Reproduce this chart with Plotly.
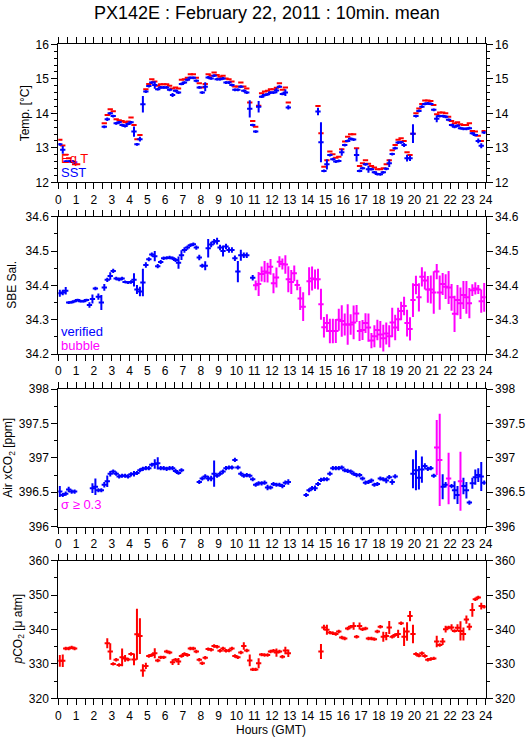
import plotly.graph_objects as go

# ---------------- data (10-minute means, 144 slots per day) ----------------
hours = [(i + 0.5) / 6 for i in range(144)]
N = None

sst = [
    13.10, 12.94, 12.60, 12.60, 12.60, 12.58, N, N, N, N, N, N,
    N, N, N, 13.61, 13.83, 14.00, 13.92, 13.71, 13.74, 13.66, 13.63, 13.69,
    13.74, 13.47, 13.10, 13.25, 14.26, 14.63, 14.79, 14.89, 14.82, 14.70, 14.75, 14.75,
    14.75, 14.68, 14.53, 14.65, 14.60, 14.85, 14.89, 14.97, 15.03, 15.03, 14.94, 14.75,
    14.60, 14.77, 15.04, 15.01, 15.09, 14.99, 14.99, 15.01, 14.89, 14.89, 14.82, 14.68,
    14.68, 14.77, 14.65, 14.60, 14.13, 13.66, 13.47, 14.19, 14.48, 14.53, 14.55, 14.60,
    14.60, 14.66, 14.77, 14.56, 14.60, 14.17, N, N, N, N, N, N,
    N, N, N, 14.05, 13.16, 12.33, 12.52, 12.79, 12.67, 12.60, 12.62, 12.87,
    13.08, 13.20, 13.26, 13.24, 12.79, 12.33, 12.41, 12.52, 12.38, 12.38, 12.29, 12.24,
    12.23, 12.29, 12.39, 12.55, 12.82, 12.99, 13.15, 13.16, 13.08, 12.70, 12.70, 13.41,
    13.92, 14.07, 14.19, 14.27, 14.29, 14.27, 14.10, 13.84, 13.92, 13.92, 13.90, 13.81,
    13.66, 13.61, 13.64, 13.57, 13.55, 13.55, 13.57, 13.42, 13.37, 13.20, 13.06, 13.44,
]
sst_err = [
    0.04, 0.11, 0.04, 0.04, 0.04, 0.04, 0, 0, 0, 0, 0, 0,
    0, 0, 0, 0.04, 0.05, 0.04, 0.04, 0.04, 0.04, 0.04, 0.04, 0.04,
    0.04, 0.15, 0.04, 0.07, 0.24, 0.04, 0.04, 0.04, 0.11, 0.04, 0.04, 0.04,
    0.04, 0.04, 0.06, 0.04, 0.04, 0.04, 0.04, 0.04, 0.04, 0.04, 0.04, 0.04,
    0.04, 0.13, 0.04, 0.04, 0.04, 0.04, 0.04, 0.04, 0.04, 0.04, 0.04, 0.04,
    0.04, 0.04, 0.04, 0.04, 0.25, 0.04, 0.04, 0.17, 0.04, 0.04, 0.04, 0.04,
    0.04, 0.08, 0.04, 0.04, 0.10, 0.06, 0, 0, 0, 0, 0, 0,
    0, 0, 0, 0.11, 0.58, 0.04, 0.15, 0.04, 0.04, 0.04, 0.04, 0.10,
    0.04, 0.04, 0.04, 0.04, 0.19, 0.04, 0.04, 0.04, 0.10, 0.04, 0.04, 0.04,
    0.04, 0.04, 0.04, 0.11, 0.04, 0.04, 0.04, 0.04, 0.06, 0.10, 0.08, 0.27,
    0.04, 0.04, 0.04, 0.04, 0.04, 0.04, 0.04, 0.10, 0.04, 0.04, 0.04, 0.04,
    0.04, 0.04, 0.04, 0.04, 0.04, 0.04, 0.04, 0.04, 0.04, 0.07, 0.07, 0.04,
]
eq_t = [
    13.23, 13.07, 12.80, 12.70, 12.62, 12.52, 12.52, N, N, N, N, N,
    N, N, N, 13.71, 13.95, 14.12, 14.06, 13.83, 13.80, 13.78, 13.74, 13.76,
    13.88, 13.66, 13.25, 13.37, N, 14.70, 14.85, 14.99, 14.92, 14.80, 14.84, 14.84,
    14.84, 14.80, 14.72, 14.75, 14.72, 14.97, 14.99, 15.03, 15.13, 15.13, 15.03, 14.87,
    14.75, 14.85, 15.13, 15.09, 15.18, 15.11, 15.06, 15.09, 15.01, 14.99, 14.92, 14.78,
    14.78, 14.89, 14.78, 14.72, 14.31, 13.78, 13.61, 14.22, 14.58, 14.63, 14.65, 14.70,
    14.70, 14.74, 14.87, 14.68, 14.75, 14.31, N, N, N, N, N, N,
    N, N, N, 14.21, 13.42, 12.45, 12.64, 12.89, 12.81, 12.71, 12.74, 12.96,
    13.18, 13.32, 13.39, 13.39, 12.99, 12.47, 12.55, 12.64, 12.54, 12.47, 12.43, 12.38,
    12.38, 12.41, 12.52, 12.64, 12.93, 13.08, 13.23, 13.28, 13.20, 12.87, 12.79, 13.41,
    14.00, 14.14, 14.27, 14.37, 14.37, 14.36, 14.24, 13.97, 14.02, 14.02, 14.00, 13.90,
    13.78, 13.71, 13.74, 13.68, 13.66, 13.66, 13.71, 13.49, 13.47, 13.35, 13.20, 13.49,
]

sal = [
    34.377, 34.379, 34.384, 34.350, 34.351, 34.354, 34.357, 34.354, 34.354, 34.357, 34.343, 34.360,
    34.391, 34.367, 34.350, 34.394, 34.416, 34.427, 34.442, 34.420, 34.417, 34.420, 34.410, 34.408,
    34.410, 34.416, 34.388, 34.382, 34.408, 34.459, 34.476, 34.490, 34.485, 34.456, 34.468, 34.479,
    34.480, 34.481, 34.479, 34.474, 34.466, 34.488, 34.503, 34.510, 34.517, 34.520, 34.510, 34.481,
    34.457, 34.457, 34.508, 34.519, 34.527, 34.529, 34.510, 34.500, 34.513, 34.503, 34.503, 34.479,
    34.440, 34.488, 34.488, 34.488, N, 34.422, 34.400, 34.404, 34.433, 34.440, 34.437, 34.454,
    34.406, 34.423, 34.469, 34.462, 34.461, 34.418, 34.410, 34.435, 34.401, 34.362, 34.338, N,
    34.412, 34.420, 34.418, 34.418, 34.345, 34.278, 34.290, 34.267, 34.267, 34.267, 34.300, 34.296,
    34.286, 34.286, 34.286, 34.292, 34.318, 34.267, 34.270, 34.290, 34.277, 34.239, 34.252, 34.270,
    34.257, 34.246, 34.260, 34.252, 34.292, 34.277, 34.301, 34.325, 34.340, 34.290, 34.273, 34.357,
    34.401, 34.365, 34.425, 34.414, 34.388, 34.388, 34.379, 34.440, 34.379, 34.404, 34.396, 34.394,
    34.365, 34.317, 34.357, 34.348, 34.372, 34.365, 34.348, 34.386, 34.391, 34.388, 34.354, 34.365,
]
sal_err = [
    0.010, 0.008, 0.011, 0.004, 0.004, 0.004, 0.004, 0.004, 0.004, 0.004, 0.008, 0.013,
    0.005, 0.009, 0.022, 0.010, 0.006, 0.011, 0.006, 0.005, 0.005, 0.005, 0.004, 0.004,
    0.005, 0.019, 0.013, 0.014, 0.040, 0.008, 0.006, 0.006, 0.015, 0.006, 0.006, 0.005,
    0.005, 0.005, 0.005, 0.006, 0.018, 0.014, 0.008, 0.006, 0.005, 0.005, 0.006, 0.008,
    0.006, 0.013, 0.027, 0.008, 0.008, 0.010, 0.008, 0.016, 0.008, 0.008, 0.008, 0.008,
    0.031, 0.016, 0.008, 0.008, 0, 0.008, 0.014, 0.035, 0.022, 0.031, 0.029, 0.023,
    0.029, 0.029, 0.016, 0.016, 0.027, 0.038, 0.035, 0.023, 0.015, 0.034, 0.042, 0,
    0.041, 0.035, 0.028, 0.030, 0.045, 0.030, 0.026, 0.036, 0.036, 0.035, 0.032, 0.046,
    0.032, 0.059, 0.030, 0.049, 0.025, 0.029, 0.029, 0.029, 0.041, 0.022, 0.032, 0.030,
    0.039, 0.039, 0.032, 0.032, 0.043, 0.037, 0.034, 0.027, 0.027, 0.039, 0.034, 0.049,
    0.027, 0.041, 0.028, 0.026, 0.039, 0.041, 0.062, 0.022, 0.050, 0.032, 0.036, 0.048,
    0.039, 0.053, 0.044, 0.046, 0.041, 0.048, 0.044, 0.017, 0.018, 0.013, 0.034, 0.042,
]
sal_qc = ["verified"] * 66 + ["bubble"] * 78

xco2 = [
    396.51, 396.46, 396.48, 396.54, 396.51, 396.51, N, N, N, N, N, 396.56,
    396.58, 396.53, 396.53, 396.61, 396.66, 396.77, 396.80, 396.77, 396.73, 396.74, 396.74, 396.73,
    396.76, 396.77, 396.78, 396.82, 396.84, 396.85, 396.85, 396.90, 396.91, 396.92, 396.85, 396.85,
    396.84, 396.85, 396.85, 396.81, 396.78, 396.82, N, N, N, N, N, 396.65,
    396.70, 396.73, 396.70, 396.70, 396.77, 396.74, 396.77, 396.80, 396.85, 396.86, 396.86, 396.97,
    396.86, 396.77, 396.74, 396.75, 396.74, 396.69, 396.61, 396.63, 396.63, 396.64, 396.57, 396.57,
    396.62, 396.61, 396.61, 396.59, 396.64, 396.65, N, N, N, N, N, 396.46,
    396.53, 396.56, 396.56, 396.62, 396.68, 396.69, 396.69, 396.77, 396.85, 396.85, 396.85, 396.86,
    396.82, 396.81, 396.80, 396.77, 396.75, 396.75, 396.70, 396.64, 396.65, 396.67, 396.61, 396.62,
    396.70, 396.69, 396.67, 396.72, 396.65, 396.73, N, N, N, N, N, 396.77,
    396.82, 396.71, 396.83, 396.88, 396.84, 396.85, 396.74, 397.15, 396.97, 396.58, 396.61, 396.70,
    396.59, 396.53, 396.46, 396.66, 396.59, 396.53, 396.35, 396.63, 396.72, 396.75, 396.73, 396.64,
]
xco2_sigma = [
    0.08, 0.03, 0.03, 0.04, 0.03, 0.03, 0, 0, 0, 0, 0, 0.07,
    0.12, 0.03, 0.03, 0.04, 0.085, 0.04, 0.03, 0.03, 0.03, 0.03, 0.03, 0.03,
    0.03, 0.04, 0.03, 0.03, 0.03, 0.03, 0.03, 0.03, 0.07, 0.09, 0.03, 0.03,
    0.03, 0.03, 0.03, 0.03, 0.025, 0.03, 0, 0, 0, 0, 0, 0.03,
    0.03, 0.03, 0.04, 0.04, 0.19, 0.03, 0.03, 0.03, 0.03, 0.03, 0.03, 0.03,
    0.03, 0.03, 0.03, 0.03, 0.03, 0.03, 0.03, 0.03, 0.03, 0.03, 0.04, 0.03,
    0.03, 0.03, 0.03, 0.03, 0.03, 0.04, 0, 0, 0, 0, 0, 0.03,
    0.03, 0.03, 0.04, 0.03, 0.03, 0.03, 0.03, 0.03, 0.03, 0.03, 0.03, 0.03,
    0.03, 0.03, 0.03, 0.03, 0.03, 0.03, 0.03, 0.03, 0.03, 0.03, 0.03, 0.03,
    0.03, 0.03, 0.04, 0.03, 0.04, 0.03, 0, 0, 0, 0, 0, 0.21,
    0.29, 0.17, 0.19, 0.04, 0.03, 0.03, 0.03, 0.40, 0.67, 0.18, 0.04, 0.375,
    0.03, 0.13, 0.13, 0.43, 0.12, 0.12, 0.03, 0.08, 0.11, 0.10, 0.21, 0.03,
]

pco2 = [
    330.9, 330.9, 334.5, 334.5, 334.8, 334.5, N, N, N, N, N, N,
    N, N, N, N, 336.0, 333.6, 330.0, 331.2, 329.7, 331.9, 331.6, 331.3,
    332.9, 331.3, 338.6, 338.1, 328.1, 329.4, 332.3, 332.6, 333.1, 331.0, 331.9, 331.9,
    333.6, 333.3, 330.5, 331.2, 330.7, 332.3, 332.9, 332.6, 334.5, 334.5, 333.6, 331.2,
    330.2, 331.8, 334.3, 334.1, 335.2, 335.0, 333.8, 334.5, 333.8, 333.9, 334.5, 332.3,
    331.9, 333.3, 335.2, 333.9, 331.0, 328.4, 328.4, 330.2, 332.7, 332.6, 332.6, 333.6,
    333.8, 333.3, 333.6, 332.1, 333.9, 333.1, N, N, N, N, N, N,
    N, N, N, N, 333.6, 340.6, 339.9, 339.1, 338.9, 338.7, 339.4, 337.7,
    337.4, 340.3, 340.8, 341.0, 337.9, 341.0, 340.1, 340.3, 337.4, 337.4, 337.2, 339.4,
    340.8, 337.9, 338.1, 340.6, 337.9, 338.4, 338.7, 341.8, 337.9, 339.4, 343.9, 338.7,
    332.9, 332.4, 333.1, 332.3, 331.2, 331.4, 331.6, 336.5, 335.5, 336.5, 340.1, 340.6,
    340.6, 339.6, 340.5, 339.6, 338.7, 342.9, 340.8, 345.7, 348.8, 349.3, 346.8, 346.6,
]
pco2_err = [
    1.7, 1.8, 0.5, 0.5, 0.5, 0.5, 0, 0, 0, 0, 0, 0,
    0, 0, 0, 0, 1.45, 2.4, 0.5, 0.5, 0.5, 2.6, 1.0, 0.5,
    0.5, 1.7, 7.4, 5.2, 1.8, 0.9, 0.5, 0.5, 1.45, 0.5, 0.5, 0.5,
    0.5, 0.5, 0.85, 0.5, 1.0, 0.5, 0.5, 0.5, 0.5, 0.5, 0.5, 0.5,
    0.5, 0.5, 0.5, 0.5, 0.5, 0.5, 0.5, 0.5, 0.5, 0.5, 0.5, 0.5,
    0.5, 0.5, 1.1, 0.5, 1.7, 0.5, 0.5, 1.45, 0.5, 0.5, 0.5, 0.5,
    0.5, 1.2, 0.5, 0.5, 1.1, 1.1, 0, 0, 0, 0, 0, 0,
    0, 0, 0, 0, 2.2, 0.8, 1.45, 0.5, 0.5, 0.5, 0.5, 0.5,
    0.5, 0.5, 0.5, 1.1, 0.5, 1.0, 0.5, 0.5, 0.5, 0.5, 0.5, 0.5,
    0.5, 1.45, 1.2, 1.9, 0.5, 0.5, 1.2, 0.5, 2.7, 2.7, 1.5, 2.7,
    0.5, 0.5, 0.5, 0.5, 0.5, 0.5, 0.5, 1.65, 0.5, 1.0, 1.0, 0.5,
    0.9, 0.5, 1.0, 2.8, 1.9, 1.2, 1.0, 2.0, 0.5, 0.5, 1.0, 0.5,
]

hour_ticks = list(range(0, 25))
title_text = "PX142E : February 22, 2011 : 10min. mean"

# ---------------- style ----------------
W, H = 529, 739
FONT = "Liberation Sans, Arial, Helvetica, sans-serif"
BLUE, RED, MAG = "#0000ff", "#ff0000", "#ff00ff"
X0, X1 = 58.3 / W, 485.7 / W
panels = [  # (top px, bottom px, range, dtick, minor dtick, y-title, title x px)
    (44.3, 182.3, [12, 16], 1, 0.2, "Temp. [°C]", 25),
    (216.7, 354.0, [34.2, 34.6], 0.1, 0.05, "SBE Sal.", 12.5),
    (389.0, 526.7, [396, 398], 0.5, 0.25, "Air xCO<sub>2</sub> [ppm]", 9),
    (560.7, 698.3, [320, 360], 10, 5, "<i>p</i>CO<sub>2</sub> [μ atm]", 18),
]


def py(p):
    return 1 - p / H


fig = go.Figure()


def cross(y, err, color, k, msize=3.8):
    ax = "" if k == 1 else str(k)
    fig.add_trace(go.Scatter(
        x=hours, y=y, mode="markers", xaxis="x" + ax, yaxis="y" + ax,
        marker=dict(symbol="line-ew", size=msize, line=dict(width=2, color=color)),
        error_y=dict(type="data", array=err, symmetric=True, width=0,
                     thickness=2, color=color, visible=err is not None),
        showlegend=False, hoverinfo="x+y", cliponaxis=True))


# panel 1: Eq T (red) and SST (blue)
cross(eq_t, None, RED, 1, msize=3.8)
cross(sst, sst_err, BLUE, 1)

# panel 2: salinity split by QC flag
sal_v = [v if q == "verified" else None for v, q in zip(sal, sal_qc)]
sal_b = [v if q == "bubble" else None for v, q in zip(sal, sal_qc)]
cross(sal_v, sal_err, BLUE, 2)
cross(sal_b, sal_err, MAG, 2)

# panel 3: air xCO2, magenta when sigma >= 0.3
x_ok = [v if s < 0.3 else None for v, s in zip(xco2, xco2_sigma)]
x_hi = [v if s >= 0.3 else None for v, s in zip(xco2, xco2_sigma)]
cross(x_ok, xco2_sigma, BLUE, 3)
cross(x_hi, xco2_sigma, MAG, 3)

# panel 4: pCO2
cross(pco2, pco2_err, RED, 4)

# dummy traces for right-hand axes
for k in range(1, 5):
    ax = "" if k == 1 else str(k)
    fig.add_trace(go.Scatter(x=[None], y=[None], xaxis="x" + ax, yaxis="y" + str(k + 4),
                             showlegend=False, hoverinfo="skip"))

layout = dict(
    width=W, height=H, margin=dict(l=0, r=0, t=0, b=0),
    paper_bgcolor="white", plot_bgcolor="white",
    font=dict(family=FONT, size=12, color="black"),
    showlegend=False,
)
annotations = []
for k, (top, bot, rng, dt, mdt, ytitle, tx) in enumerate(panels, start=1):
    ax = "" if k == 1 else str(k)
    dom = [py(bot), py(top)]
    layout["xaxis" + ax] = dict(
        domain=[X0, X1], anchor="y" + ax, range=[0, 24],
        tickmode="array", tickvals=hour_ticks, ticktext=[str(h) for h in hour_ticks],
        ticks="outside", ticklen=6, tickwidth=1, tickcolor="black",
        minor=dict(dtick=0.5, tick0=0, ticks="outside", ticklen=3, tickwidth=1, tickcolor="black"),
        showline=True, linecolor="black", linewidth=1, mirror="allticks",
        showgrid=False, zeroline=False, showticklabels=True,
        tickfont=dict(size=12, family=FONT), automargin=False,
    )
    common_y = dict(
        range=rng, dtick=dt, tick0=rng[0], ticks="outside", ticklen=6, tickwidth=1,
        tickcolor="black",
        minor=dict(dtick=mdt, ticks="outside", ticklen=3, tickwidth=1, tickcolor="black"),
        showgrid=False, zeroline=False, tickfont=dict(size=12, family=FONT),
        automargin=False,
    )
    layout["yaxis" + ax] = dict(common_y, domain=dom, anchor="x" + ax, side="left",
                                showline=True, linecolor="black", linewidth=1, mirror=True)
    layout["yaxis" + str(k + 4)] = dict(common_y, overlaying="y" + ax, anchor="x" + ax,
                                        side="right", showline=False)
    annotations.append(dict(
        text=ytitle, xref="paper", yref="paper", x=tx / W, y=py((top + bot) / 2),
        xanchor="center", yanchor="middle", textangle=-90, showarrow=False,
        font=dict(size=12, family=FONT, color="black")))

annotations += [
    dict(text=title_text, xref="paper", yref="paper", x=267 / W, y=py(13),
         xanchor="center", yanchor="middle", showarrow=False,
         font=dict(size=18, family=FONT, color="black")),
    dict(text="Hours (GMT)", xref="paper", yref="paper", x=271 / W, y=py(730),
         xanchor="center", yanchor="middle", showarrow=False,
         font=dict(size=12, family=FONT, color="black")),
    dict(text="Eq T", xref="paper", yref="paper", x=59 / W, y=py(158),
         xanchor="left", yanchor="middle", showarrow=False,
         font=dict(size=13, family=FONT, color=RED)),
    dict(text="SST", xref="paper", yref="paper", x=59 / W, y=py(172),
         xanchor="left", yanchor="middle", showarrow=False,
         font=dict(size=13, family=FONT, color=BLUE)),
    dict(text="verified", xref="paper", yref="paper", x=59 / W, y=py(332),
         xanchor="left", yanchor="middle", showarrow=False,
         font=dict(size=13, family=FONT, color=BLUE)),
    dict(text="bubble", xref="paper", yref="paper", x=59 / W, y=py(345),
         xanchor="left", yanchor="middle", showarrow=False,
         font=dict(size=13, family=FONT, color=MAG)),
    dict(text="σ ≥ 0.3", xref="paper", yref="paper", x=59 / W, y=py(504),
         xanchor="left", yanchor="middle", showarrow=False,
         font=dict(size=13, family=FONT, color=MAG)),
]
layout["annotations"] = annotations
fig.update_layout(**layout)
fig.write_html("out.html", config={"displayModeBar": False},
               post_script="document.body.style.margin='0';")
